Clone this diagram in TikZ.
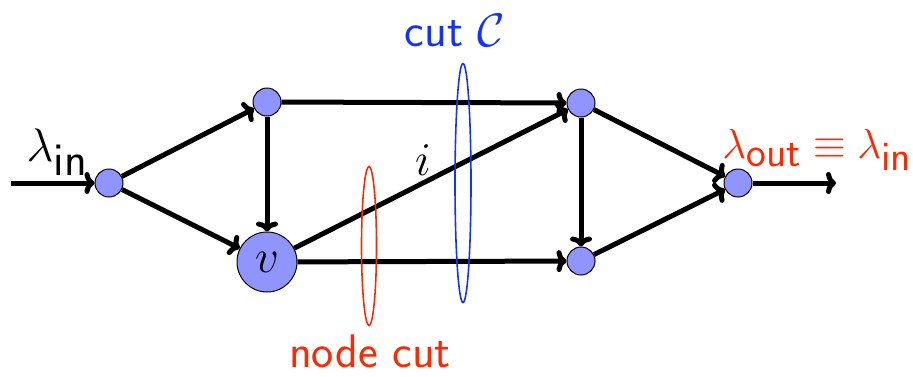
\RequirePackage{fix-cm}
\documentclass[tikz,border=0pt]{standalone}
\usetikzlibrary{arrows.meta,shapes.geometric}
\definecolor{nodefill}{RGB}{143,148,255}
\definecolor{cutblue}{RGB}{20,50,255}
\definecolor{cutred}{RGB}{255,40,0}
\begin{document}
\begin{tikzpicture}[x=1pt,y=-1pt,
  vtx/.style={circle,draw=black,line width=1pt,fill=nodefill,minimum size=28pt,inner sep=0pt},
  bigvtx/.style={circle,draw=black,line width=1pt,fill=nodefill,minimum size=60pt,inner sep=0pt},
  edge/.style={line width=5pt,-{To[length=10pt,width=22pt]}},
  lbl/.style={font=\fontsize{47}{54}\selectfont\sffamily,inner sep=1pt},
  every node/.append style={font=\fontsize{47}{54}\selectfont}]
\useasboundingbox (0,0) rectangle (913,376);
\node[vtx] (a) at (109,183) {};
\node[vtx] (b) at (267,102) {};
\node[bigvtx] (v) at (267,262) {$v$};
\node[vtx] (c) at (581,103) {};
\node[vtx] (d) at (581,261) {};
\node[vtx] (e) at (738,183) {};
\coordinate (in) at (11,183);
\coordinate (out) at (836,183);
\draw[edge] (in) -- (a);
\draw[edge] (a) -- (b);
\draw[edge] (a) -- (v);
\draw[edge] (b) -- (v);
\draw[edge] (b) -- (c);
\draw[edge] (v) -- (c);
\draw[edge] (v) -- (d);
\draw[edge] (c) -- (d);
\draw[edge] (c) -- (e);
\draw[edge] (d) -- (e);
\draw[edge] (e) -- (out);
\node (ellb) [draw=cutblue,line width=1.6pt,ellipse,minimum width=16pt,minimum height=239pt,inner sep=0pt] at (463,183) {};
\node (ellr) [draw=cutred,line width=1.6pt,ellipse,minimum width=15pt,minimum height=159pt,inner sep=0pt] at (369,246) {};
\node[lbl,text=cutblue] (cutC) at (455,31) {cut $\mathcal{C}$};
\node[lbl,text=cutred] (nodecut) at (370,351) {node cut};
\node (lin) at (57,152) {$\lambda_{\textsf{in}}$};
\node[text=cutred,font=\fontsize{42}{48}\selectfont,inner sep=1pt] (lout) at (817,150) {$\lambda_{\textsf{out}}\equiv\lambda_{\textsf{in}}$};
\node (i) at (423,160) {$i$};
\end{tikzpicture}
\end{document}
